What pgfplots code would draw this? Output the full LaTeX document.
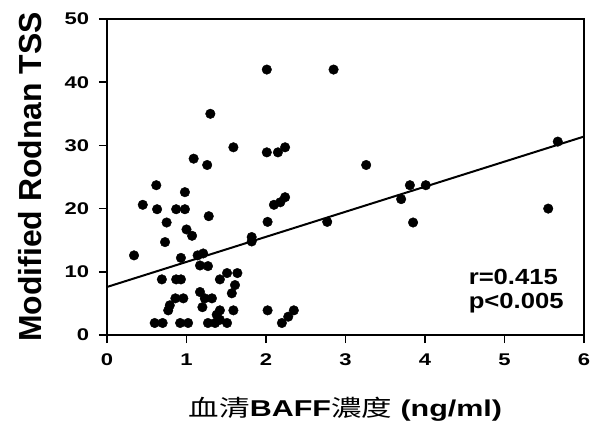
\documentclass[border=0pt]{standalone}
\usepackage{fontspec}
\setmainfont{Liberation Sans}
\newfontfamily\cjk{Noto Sans CJK TC}
\usepackage{graphicx}
\usepackage{pgfplots}
\pgfplotsset{compat=1.18}
\usetikzlibrary{calc}

\begin{document}
\begin{tikzpicture}
\begin{axis}[
  name=ax,
  scale only axis,
  width=477bp, height=316bp,
  xmin=0, xmax=6, ymin=0, ymax=50,
  xtick={0,1,...,6}, ytick={0,10,...,50},
  xtick align=outside, ytick align=outside,
  xtick pos=left, ytick pos=left,
  major tick length=8bp,
  line width=1.7bp,
  major tick style={line width=1.7bp, black},
  xticklabel={\scalebox{1.3}[1]{\pgfmathprintnumber[assume math mode=true]{\tick}}},
  yticklabel={\scalebox{1.3}[1]{\pgfmathprintnumber[assume math mode=true]{\tick}}},
  xticklabel style={font=\fontsize{17}{17}\selectfont\bfseries, inner sep=0pt, yshift=-10bp},
  yticklabel style={font=\fontsize{17}{17}\selectfont\bfseries, inner sep=0pt, xshift=-9bp},
  xlabel={\scalebox{1.33}[1]{{\cjk 血清}\textbf{BAFF}{\cjk 濃度} \textbf{(ng/ml)}}},
  xlabel style={font=\fontsize{23}{23}\selectfont, at={([yshift=-81bp]axis description cs:0.5,0)}, anchor=base, inner sep=0pt},
  ylabel={Modified Rodnan TSS},
  ylabel style={font=\fontsize{32}{32}\selectfont\bfseries, at={([xshift=-77bp]axis description cs:0,0.5)}, anchor=center, inner sep=0pt},
]
\addplot[only marks, mark=*, mark size=4.8bp, mark options={line width=0.4bp}, black] coordinates {
  (2.01,42) (2.85,42) (1.30,35) (1.09,27.9) (1.26,26.9) (1.59,29.7)
  (2.01,28.9) (2.15,28.9) (2.24,29.7) (3.26,26.9) (5.67,30.6)
  (0.62,23.7) (0.98,22.6) (0.45,20.6) (0.63,19.9) (0.87,19.9) (0.98,19.9)
  (1.28,18.8) (0.75,17.8) (1.00,16.7) (1.07,15.7) (0.73,14.7)
  (2.10,20.6) (2.18,21.0) (2.24,21.8) (2.02,17.9) (1.82,15.5) (1.82,14.8)
  (2.77,17.9) (3.81,23.7) (4.01,23.7) (3.70,21.5) (3.85,17.8) (5.55,20.0)
  (0.34,12.6) (0.93,12.2) (1.14,12.6) (1.21,12.9) (1.17,11.0) (1.27,10.9)
  (0.69,8.8) (0.87,8.8) (0.93,8.8) (1.42,8.8) (1.51,9.8) (1.64,9.8)
  (1.61,7.9) (1.57,6.6)
  (0.86,5.8) (0.96,5.8) (0.79,4.7) (0.77,3.9)
  (1.17,6.8) (1.23,5.8) (1.32,5.8) (1.20,4.4)
  (1.42,3.9) (1.59,3.9) (1.38,3.2)
  (0.60,1.9) (0.70,1.9) (0.92,1.9) (1.02,1.9) (1.27,1.9) (1.36,1.9) (1.42,2.4) (1.51,1.9)
  (2.02,3.9) (2.20,1.9) (2.28,2.9) (2.35,3.9)
};
\addplot[line width=2bp, no marks, black] coordinates {(0,7.6) (6,31.4)};
\node[anchor=west, inner sep=0pt, font=\fontsize{22}{22}\selectfont\bfseries] at (axis cs:4.54,9.2) {\scalebox{1.17}[1]{r=0.415}};
\node[anchor=west, inner sep=0pt, font=\fontsize{22}{22}\selectfont\bfseries] at (axis cs:4.54,5.1) {\scalebox{1.17}[1]{p<0.005}};
\end{axis}
\pgfresetboundingbox
\path ($(ax.south west)+(-107bp,-88bp)$) rectangle ($(ax.north east)+(12bp,19bp)$);
\end{tikzpicture}
\end{document}
